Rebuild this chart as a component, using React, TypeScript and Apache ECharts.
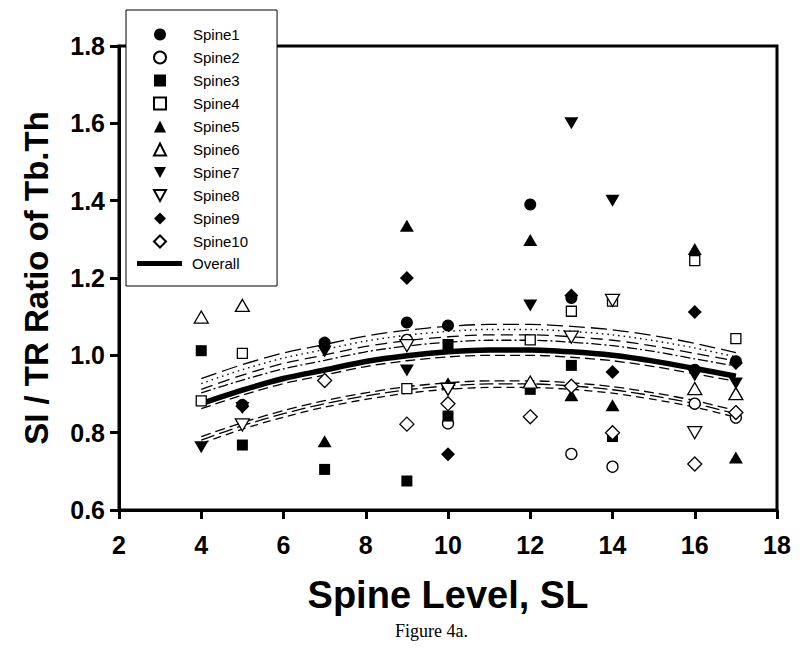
import React, { useEffect, useRef } from 'react';
import * as echarts from 'echarts';

// ---- data ----
const spineNames = ['Spine1', 'Spine2', 'Spine3', 'Spine4', 'Spine5', 'Spine6', 'Spine7', 'Spine8', 'Spine9', 'Spine10'];

const spine1 = [[5, 0.872], [7, 1.033], [9, 1.085], [10, 1.077], [12, 1.39], [13, 1.148], [16, 0.963], [17, 0.985]];
const spine2 = [[9, 1.04], [10, 0.824], [13, 0.745], [14, 0.712], [16, 0.875], [17, 0.839]];
const spine3 = [[4, 1.012], [5, 0.768], [7, 0.705], [9, 0.675], [10, 1.028], [10, 0.843], [12, 0.912], [13, 0.974], [14, 0.79]];
const spine4 = [[4, 0.882], [5, 1.005], [9, 0.914], [12, 1.04], [13, 1.114], [14, 1.14], [16, 1.245], [17, 1.043]];
const spine5 = [[7, 0.778], [9, 1.335], [10, 0.928], [12, 1.298], [13, 0.897], [14, 0.871], [16, 1.275], [17, 0.736]];
const spine6 = [[4, 1.099], [5, 1.129], [12, 0.931], [16, 0.914], [17, 0.901]];
const spine7 = [[4, 0.762], [5, 0.864], [7, 1.01], [9, 0.961], [12, 1.129], [13, 1.6], [14, 1.4], [16, 0.948], [17, 0.927]];
const spine8 = [[5, 0.82], [9, 1.025], [10, 0.912], [13, 1.047], [14, 1.142], [16, 0.8]];
const spine9 = [[5, 0.868], [9, 1.2], [10, 0.744], [13, 1.155], [14, 0.957], [16, 1.112], [17, 0.98]];
const spine10 = [[7, 0.935], [9, 0.822], [10, 0.875], [12, 0.841], [13, 0.92], [14, 0.8], [16, 0.719], [17, 0.852]];

// fitted curves, read at each spine level 4..17
const curveLevels = [4, 5, 6, 7, 8, 9, 10, 11, 12, 13, 14, 15, 16, 17];
const overallFit = [0.875, 0.91, 0.94, 0.962, 0.984, 0.999, 1.009, 1.014, 1.014, 1.009, 1.0, 0.985, 0.966, 0.946];
const upperCurveA = [0.94, 0.976, 1.006, 1.028, 1.05, 1.065, 1.075, 1.08, 1.08, 1.075, 1.066, 1.051, 1.031, 1.007];
const upperCurveB = [0.927, 0.963, 0.993, 1.015, 1.037, 1.052, 1.062, 1.067, 1.067, 1.062, 1.053, 1.038, 1.019, 0.996];
const upperCurveC = [0.912, 0.949, 0.979, 1.001, 1.023, 1.038, 1.048, 1.053, 1.053, 1.048, 1.039, 1.024, 1.005, 0.985];
const upperCurveD = [0.903, 0.936, 0.965, 0.987, 1.009, 1.024, 1.034, 1.039, 1.039, 1.034, 1.025, 1.01, 0.991, 0.972];
const nearCurveE = [0.862, 0.897, 0.927, 0.949, 0.971, 0.986, 0.996, 1.0, 1.0, 0.995, 0.986, 0.971, 0.952, 0.933];
const lowerCurveF = [0.79, 0.826, 0.857, 0.883, 0.903, 0.919, 0.929, 0.934, 0.934, 0.929, 0.919, 0.903, 0.883, 0.857];
const lowerCurveG = [0.781, 0.818, 0.849, 0.875, 0.895, 0.911, 0.921, 0.926, 0.926, 0.921, 0.911, 0.895, 0.875, 0.849];
const lowerCurveH = [0.772, 0.809, 0.84, 0.866, 0.886, 0.902, 0.912, 0.917, 0.917, 0.912, 0.902, 0.886, 0.866, 0.84];

const xTicks = { min: 2, max: 18, interval: 2 };
const yTicks = { min: 0.6, max: 1.8, interval: 0.2 };

const spineData = [spine1, spine2, spine3, spine4, spine5, spine6, spine7, spine8, spine9, spine10];

const DOWN = 'path://M0,0L10,0L5,9Z';
const symbolDefs: any[] = [
  { symbol: 'circle', size: 12, hollow: false },
  { symbol: 'circle', size: 11, hollow: true },
  { symbol: 'rect', size: 11, hollow: false },
  { symbol: 'rect', size: 10, hollow: true },
  { symbol: 'triangle', size: [14, 12], hollow: false },
  { symbol: 'triangle', size: [14, 12], hollow: true },
  { symbol: DOWN, size: [14, 12], hollow: false },
  { symbol: DOWN, size: [14, 12], hollow: true },
  { symbol: 'diamond', size: 14, hollow: false },
  { symbol: 'diamond', size: 14, hollow: true },
];

const FONT = 'Liberation Sans, Arial, sans-serif';

export default function App() {
  const ref = useRef<HTMLDivElement>(null);
  useEffect(() => {
    if (!ref.current) return;
    const chart = echarts.init(ref.current, undefined, { renderer: 'svg' });

    const mkCurve = (name: string, vals: number[], width: number, type: any) => ({
      name,
      type: 'line',
      data: curveLevels.map((x, i) => [x, vals[i]]),
      smooth: 0.3,
      symbol: 'none',
      silent: true,
      z: 1,
      itemStyle: { color: '#000' },
      lineStyle: { color: '#000', width, type },
    });

    const scatterSeries = spineNames.map((name, i) => {
      const d = symbolDefs[i];
      return {
        name,
        type: 'scatter',
        data: spineData[i],
        symbol: d.symbol,
        symbolSize: d.size,
        z: 3,
        itemStyle: {
          color: d.hollow ? '#fff' : '#000',
          borderColor: '#000',
          borderWidth: d.hollow ? 1.3 : 0,
          opacity: 1,
        },
      };
    });

    const option: any = {
      animation: false,
      backgroundColor: '#fff',
      grid: {
        left: 119, right: 23, top: 46, bottom: 144,
        show: true, borderColor: '#000', borderWidth: 3, backgroundColor: 'transparent',
      },
      xAxis: {
        type: 'value',
        min: xTicks.min, max: xTicks.max, interval: xTicks.interval,
        name: 'Spine Level, SL',
        nameLocation: 'middle',
        nameGap: 66,
        nameTextStyle: { fontFamily: FONT, fontWeight: 'bold', fontSize: 38, color: '#000' },
        axisLine: { lineStyle: { color: '#000', width: 3 } },
        axisTick: { show: true, inside: false, length: 9, lineStyle: { color: '#000', width: 3 } },
        axisLabel: { margin: 22, fontFamily: FONT, fontWeight: 'bold', fontSize: 25, color: '#000' },
        splitLine: { show: false },
      },
      yAxis: {
        type: 'value',
        min: yTicks.min, max: yTicks.max, interval: yTicks.interval,
        name: 'SI / TR Ratio of Tb.Th',
        nameLocation: 'middle',
        nameRotate: 90,
        nameGap: 66,
        nameTextStyle: { fontFamily: FONT, fontWeight: 'bold', fontSize: 33, color: '#000' },
        axisLine: { lineStyle: { color: '#000', width: 3 } },
        axisTick: { show: true, inside: false, length: 9, lineStyle: { color: '#000', width: 3 } },
        axisLabel: {
          margin: 14, fontFamily: FONT, fontWeight: 'bold', fontSize: 25, color: '#000',
          formatter: (v: number) => v.toFixed(1),
        },
        splitLine: { show: false },
      },
      legend: [
        {
          orient: 'vertical',
          left: 126,
          top: 10,
          padding: [17, 29, 37, 27],
          itemWidth: 12,
          itemHeight: 12,
          itemGap: 8,
          backgroundColor: '#fff',
          borderColor: '#000',
          borderWidth: 1,
          selectedMode: false,
          textStyle: { fontFamily: FONT, fontSize: 15, color: '#000', padding: [0, 0, 0, 22] },
          data: spineNames,
        },
        {
          orient: 'vertical',
          left: 137,
          top: 256,
          padding: 0,
          itemWidth: 45,
          itemHeight: 5,
          z: 6,
          selectedMode: false,
          textStyle: { fontFamily: FONT, fontSize: 15, color: '#000', padding: [0, 0, 0, 5] },
          data: [{ name: 'Overall', icon: 'rect', itemStyle: { color: '#000', borderWidth: 0 } }],
        },
      ],
      graphic: [
        {
          type: 'text',
          left: 395,
          top: 622,
          style: { text: 'Figure 4a.', font: '18px "Liberation Serif", "Times New Roman", serif', fill: '#000' },
        },
      ],
      series: [
        mkCurve('bandA', upperCurveA, 1.3, [16, 6]),
        mkCurve('bandB', upperCurveB, 1.4, [1.5, 4]),
        mkCurve('bandC', upperCurveC, 1.3, [12, 6]),
        mkCurve('bandD', upperCurveD, 1.3, [10, 3, 2, 3]),
        mkCurve('bandE', nearCurveE, 1.3, [10, 5]),
        mkCurve('lowF', lowerCurveF, 1.3, [10, 5]),
        mkCurve('lowG', lowerCurveG, 1.3, [14, 5]),
        mkCurve('lowH', lowerCurveH, 1.3, [8, 5]),
        { ...mkCurve('Overall', overallFit, 5.5, 'solid'), z: 2 },
        ...scatterSeries,
      ],
    };
    chart.setOption(option);
    return () => chart.dispose();
  }, []);

  return (
    <div
      ref={ref}
      style={{ position: 'absolute', left: 0, top: 0, width: 800, height: 654, background: '#fff' }}
    />
  );
}
